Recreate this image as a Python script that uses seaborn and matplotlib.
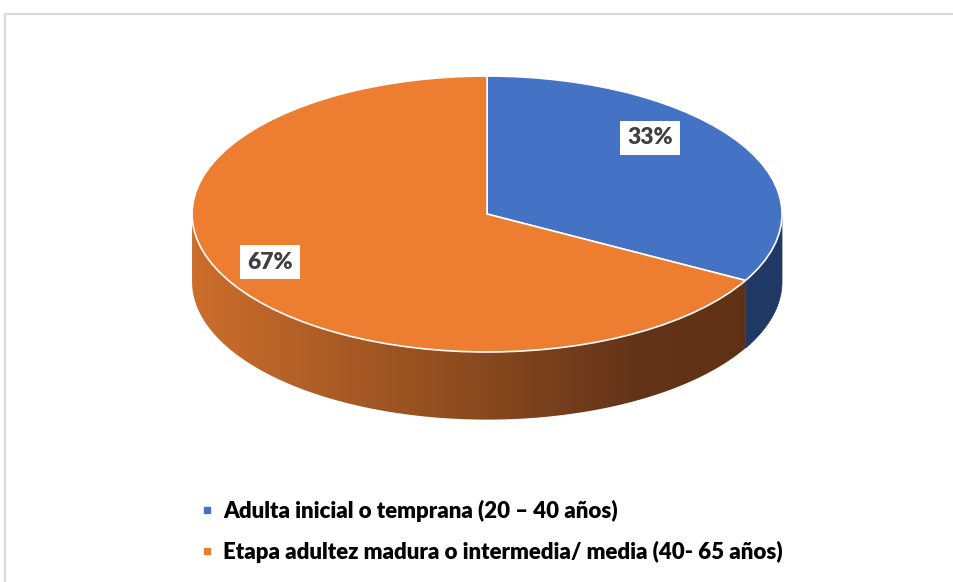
import numpy as np
import matplotlib
matplotlib.use("Agg")
import matplotlib.pyplot as plt
import seaborn as sns
from matplotlib.colors import LinearSegmentedColormap
from matplotlib.lines import Line2D
from matplotlib.patches import Polygon, Rectangle

# datos
categorias = ["Adulta inicial o temprana (20 – 40 años)",
              "Etapa adultez madura o intermedia/ media (40- 65 años)"]
porcentajes = [33, 67]
colores = ["#4472C4", "#ED7D31"]
colores_lado = ["#1F3864", None]

sns.set_theme(style="white")
plt.rcParams['font.family'] = ['Lato', 'DejaVu Sans']

fig = plt.figure(figsize=(9.54, 5.82), dpi=100)
ax = fig.add_axes([0, 0, 1, 1])

# tapa del pastel
wedges, _ = ax.pie(porcentajes, colors=colores, startangle=90, counterclock=False,
                   wedgeprops={'edgecolor': 'white', 'linewidth': 1.2})
for w in wedges:
    w.set_zorder(3)

# lados (efecto 3D)
prof = 0.49
cmap_lado = LinearSegmentedColormap.from_list(
    "lado", [(0, "#CC6E2C"), (0.45, "#8E4C1F"), (0.75, "#64341A"), (1, "#5E3013")])
grad = np.linspace(0, 1, 400).reshape(1, -1)
for w, c in zip(wedges, colores_lado):
    ang = np.linspace(w.theta1, w.theta2, 3000)
    ang = ang[np.sin(np.radians(ang)) < 0]
    if len(ang) == 0:
        continue
    r = np.radians(ang)
    xs, ys = np.cos(r), np.sin(r)
    pts = np.column_stack([np.r_[xs, xs[::-1]], np.r_[ys, ys[::-1] - prof]])
    if c is not None:
        ax.add_patch(Polygon(pts, closed=True, facecolor=c, edgecolor=c, lw=0.5, zorder=2))
    else:
        poly = Polygon(pts, closed=True, facecolor='none', edgecolor='none')
        ax.add_patch(poly)
        im = ax.imshow(grad, extent=(-1, 1, -1 - prof, 0), aspect='auto',
                       cmap=cmap_lado, zorder=1, interpolation='bilinear')
        im.set_clip_path(poly)

# etiquetas de porcentaje
pos_etq = [(0.553, 0.551), (-0.736, -0.348)]
for (x, y), v in zip(pos_etq, porcentajes):
    ax.text(x, y, f"{v:.0f}%", ha='center', va='center', fontsize=16.5,
            fontweight='heavy', color='#404040', zorder=5,
            bbox=dict(boxstyle='square,pad=0.3', facecolor='white', edgecolor='none'))

ax.set_aspect('auto')
ax.set_xlim(-1.651, 1.583)
ax.set_ylim(-2.667, 1.551)
ax.axis('off')

# leyenda
handles = [Line2D([], [], marker='s', linestyle='none', markersize=5,
                  markerfacecolor=c, markeredgecolor=c) for c in colores]
fig.legend(handles, categorias, loc='center left',
           bbox_to_anchor=(201 / 954, 1 - 531 / 582), frameon=False,
           prop={'weight': 'heavy', 'size': 16}, labelcolor='black',
           handlelength=0.55, handletextpad=0.45, labelspacing=0.85,
           borderpad=0, borderaxespad=0)

# marco del grafico
fig.patches.append(Rectangle((5 / 954, -0.1), 2, 1 - 14 / 582 + 0.1,
                             transform=fig.transFigure, fill=False,
                             edgecolor='#D9D9D9', linewidth=1.5))

fig.savefig("out.png", dpi=100, facecolor='white')
